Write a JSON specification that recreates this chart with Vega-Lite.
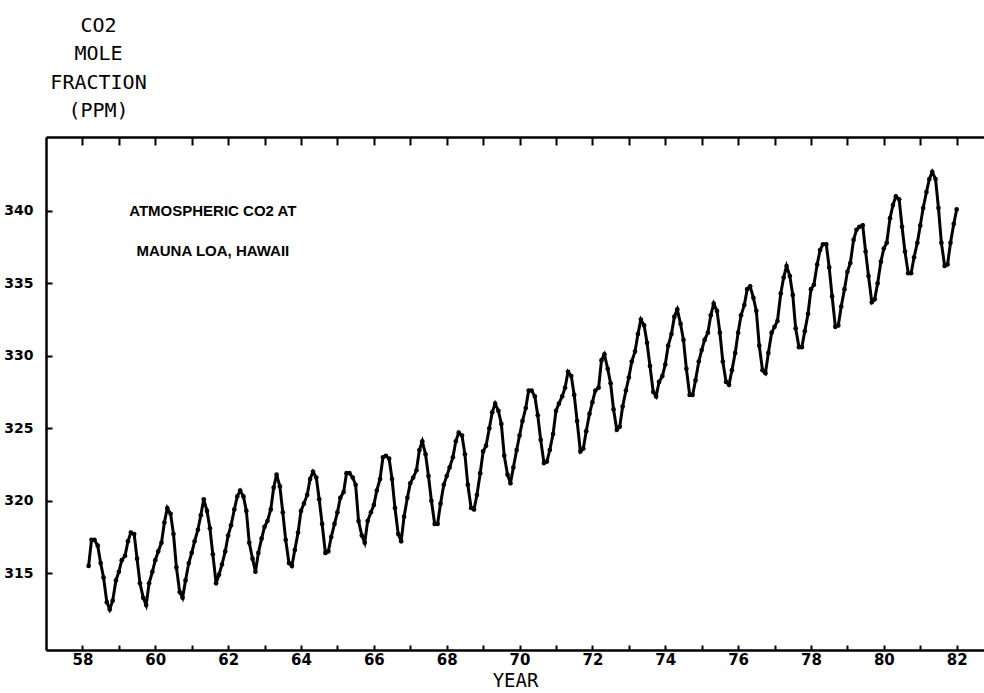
{
  "$schema": "https://vega.github.io/schema/vega-lite/v6.json",
  "autosize": {"type": "none"},
  "width": 938,
  "height": 513,
  "padding": {"left": 46, "top": 137, "right": 0, "bottom": 43},
  "background": "white",
  "config": {
    "view": {"stroke": null},
    "axis": {"grid": false, "domainColor": "black", "tickColor": "black", "labelColor": "black", "titleColor": "black"}
  },
  "datasets": {
    "co2": [
      {"t": 58.17, "co2": 315.5}, {"t": 58.25, "co2": 317.3}, {"t": 58.33, "co2": 317.3}, {"t": 58.42, "co2": 316.9}, {"t": 58.5, "co2": 315.7}, {"t": 58.58, "co2": 314.7}, {"t": 58.67, "co2": 313.0}, {"t": 58.75, "co2": 312.5}, {"t": 58.83, "co2": 313.1}, {"t": 58.92, "co2": 314.5},
      {"t": 59.0, "co2": 315.1}, {"t": 59.08, "co2": 315.9}, {"t": 59.17, "co2": 316.2}, {"t": 59.25, "co2": 317.2}, {"t": 59.33, "co2": 317.8}, {"t": 59.42, "co2": 317.7}, {"t": 59.5, "co2": 316.0}, {"t": 59.58, "co2": 314.3}, {"t": 59.67, "co2": 313.3}, {"t": 59.75, "co2": 312.8}, {"t": 59.83, "co2": 314.3}, {"t": 59.92, "co2": 315.1},
      {"t": 60.0, "co2": 315.9}, {"t": 60.08, "co2": 316.5}, {"t": 60.17, "co2": 317.1}, {"t": 60.25, "co2": 318.5}, {"t": 60.33, "co2": 319.5}, {"t": 60.42, "co2": 319.1}, {"t": 60.5, "co2": 317.7}, {"t": 60.58, "co2": 315.4}, {"t": 60.67, "co2": 313.7}, {"t": 60.75, "co2": 313.3}, {"t": 60.83, "co2": 314.5}, {"t": 60.92, "co2": 315.7},
      {"t": 61.0, "co2": 316.4}, {"t": 61.08, "co2": 317.2}, {"t": 61.17, "co2": 318.0}, {"t": 61.25, "co2": 319.0}, {"t": 61.33, "co2": 320.1}, {"t": 61.42, "co2": 319.3}, {"t": 61.5, "co2": 318.1}, {"t": 61.58, "co2": 316.3}, {"t": 61.67, "co2": 314.3}, {"t": 61.75, "co2": 314.9}, {"t": 61.83, "co2": 315.6}, {"t": 61.92, "co2": 316.5},
      {"t": 62.0, "co2": 317.6}, {"t": 62.08, "co2": 318.3}, {"t": 62.17, "co2": 319.4}, {"t": 62.25, "co2": 320.3}, {"t": 62.33, "co2": 320.7}, {"t": 62.42, "co2": 320.3}, {"t": 62.5, "co2": 319.3}, {"t": 62.58, "co2": 317.1}, {"t": 62.67, "co2": 316.0}, {"t": 62.75, "co2": 315.1}, {"t": 62.83, "co2": 316.4}, {"t": 62.92, "co2": 317.4},
      {"t": 63.0, "co2": 318.2}, {"t": 63.08, "co2": 318.6}, {"t": 63.17, "co2": 319.4}, {"t": 63.25, "co2": 320.9}, {"t": 63.33, "co2": 321.8}, {"t": 63.42, "co2": 321.0}, {"t": 63.5, "co2": 319.2}, {"t": 63.58, "co2": 317.3}, {"t": 63.67, "co2": 315.7}, {"t": 63.75, "co2": 315.5}, {"t": 63.83, "co2": 316.6}, {"t": 63.92, "co2": 317.8},
      {"t": 64.0, "co2": 319.3}, {"t": 64.08, "co2": 319.8}, {"t": 64.17, "co2": 320.4}, {"t": 64.25, "co2": 321.5}, {"t": 64.33, "co2": 322.0}, {"t": 64.42, "co2": 321.6}, {"t": 64.5, "co2": 320.1}, {"t": 64.58, "co2": 318.4}, {"t": 64.67, "co2": 316.4}, {"t": 64.75, "co2": 316.5}, {"t": 64.83, "co2": 317.5}, {"t": 64.92, "co2": 318.4},
      {"t": 65.0, "co2": 319.2}, {"t": 65.08, "co2": 320.2}, {"t": 65.17, "co2": 320.6}, {"t": 65.25, "co2": 321.9}, {"t": 65.33, "co2": 321.9}, {"t": 65.42, "co2": 321.6}, {"t": 65.5, "co2": 321.1}, {"t": 65.58, "co2": 318.6}, {"t": 65.67, "co2": 317.6}, {"t": 65.75, "co2": 317.1}, {"t": 65.83, "co2": 318.6}, {"t": 65.92, "co2": 319.2},
      {"t": 66.0, "co2": 319.7}, {"t": 66.08, "co2": 320.7}, {"t": 66.17, "co2": 321.5}, {"t": 66.25, "co2": 323.0}, {"t": 66.33, "co2": 323.1}, {"t": 66.42, "co2": 322.9}, {"t": 66.5, "co2": 321.5}, {"t": 66.58, "co2": 319.5}, {"t": 66.67, "co2": 317.7}, {"t": 66.75, "co2": 317.2}, {"t": 66.83, "co2": 318.9}, {"t": 66.92, "co2": 320.2},
      {"t": 67.0, "co2": 321.2}, {"t": 67.08, "co2": 321.6}, {"t": 67.17, "co2": 322.1}, {"t": 67.25, "co2": 323.5}, {"t": 67.33, "co2": 324.1}, {"t": 67.42, "co2": 323.2}, {"t": 67.5, "co2": 321.7}, {"t": 67.58, "co2": 320.0}, {"t": 67.67, "co2": 318.4}, {"t": 67.75, "co2": 318.4}, {"t": 67.83, "co2": 319.8}, {"t": 67.92, "co2": 321.1},
      {"t": 68.0, "co2": 321.7}, {"t": 68.08, "co2": 322.3}, {"t": 68.17, "co2": 323.0}, {"t": 68.25, "co2": 324.1}, {"t": 68.33, "co2": 324.7}, {"t": 68.42, "co2": 324.5}, {"t": 68.5, "co2": 323.2}, {"t": 68.58, "co2": 321.1}, {"t": 68.67, "co2": 319.5}, {"t": 68.75, "co2": 319.4}, {"t": 68.83, "co2": 320.4}, {"t": 68.92, "co2": 321.9},
      {"t": 69.0, "co2": 323.4}, {"t": 69.08, "co2": 323.8}, {"t": 69.17, "co2": 325.0}, {"t": 69.25, "co2": 326.1}, {"t": 69.33, "co2": 326.7}, {"t": 69.42, "co2": 326.2}, {"t": 69.5, "co2": 325.3}, {"t": 69.58, "co2": 323.1}, {"t": 69.67, "co2": 321.8}, {"t": 69.75, "co2": 321.2}, {"t": 69.83, "co2": 322.3}, {"t": 69.92, "co2": 323.5},
      {"t": 70.0, "co2": 324.5}, {"t": 70.08, "co2": 325.5}, {"t": 70.17, "co2": 326.4}, {"t": 70.25, "co2": 327.6}, {"t": 70.33, "co2": 327.6}, {"t": 70.42, "co2": 327.2}, {"t": 70.5, "co2": 325.9}, {"t": 70.58, "co2": 324.2}, {"t": 70.67, "co2": 322.6}, {"t": 70.75, "co2": 322.7}, {"t": 70.83, "co2": 323.5}, {"t": 70.92, "co2": 324.6},
      {"t": 71.0, "co2": 326.2}, {"t": 71.08, "co2": 326.7}, {"t": 71.17, "co2": 327.2}, {"t": 71.25, "co2": 327.8}, {"t": 71.33, "co2": 328.9}, {"t": 71.42, "co2": 328.6}, {"t": 71.5, "co2": 327.3}, {"t": 71.58, "co2": 325.5}, {"t": 71.67, "co2": 323.4}, {"t": 71.75, "co2": 323.6}, {"t": 71.83, "co2": 324.8}, {"t": 71.92, "co2": 326.0},
      {"t": 72.0, "co2": 326.8}, {"t": 72.08, "co2": 327.6}, {"t": 72.17, "co2": 327.8}, {"t": 72.25, "co2": 329.7}, {"t": 72.33, "co2": 330.1}, {"t": 72.42, "co2": 329.1}, {"t": 72.5, "co2": 328.1}, {"t": 72.58, "co2": 326.3}, {"t": 72.67, "co2": 324.9}, {"t": 72.75, "co2": 325.1}, {"t": 72.83, "co2": 326.5}, {"t": 72.92, "co2": 327.6},
      {"t": 73.0, "co2": 328.5}, {"t": 73.08, "co2": 329.6}, {"t": 73.17, "co2": 330.3}, {"t": 73.25, "co2": 331.5}, {"t": 73.33, "co2": 332.5}, {"t": 73.42, "co2": 332.1}, {"t": 73.5, "co2": 330.9}, {"t": 73.58, "co2": 329.3}, {"t": 73.67, "co2": 327.5}, {"t": 73.75, "co2": 327.2}, {"t": 73.83, "co2": 328.2}, {"t": 73.92, "co2": 328.6},
      {"t": 74.0, "co2": 329.4}, {"t": 74.08, "co2": 330.7}, {"t": 74.17, "co2": 331.5}, {"t": 74.25, "co2": 332.7}, {"t": 74.33, "co2": 333.2}, {"t": 74.42, "co2": 332.2}, {"t": 74.5, "co2": 331.1}, {"t": 74.58, "co2": 329.1}, {"t": 74.67, "co2": 327.3}, {"t": 74.75, "co2": 327.3}, {"t": 74.83, "co2": 328.3}, {"t": 74.92, "co2": 329.6},
      {"t": 75.0, "co2": 330.4}, {"t": 75.08, "co2": 331.1}, {"t": 75.17, "co2": 331.6}, {"t": 75.25, "co2": 332.8}, {"t": 75.33, "co2": 333.6}, {"t": 75.42, "co2": 333.1}, {"t": 75.5, "co2": 331.6}, {"t": 75.58, "co2": 329.6}, {"t": 75.67, "co2": 328.2}, {"t": 75.75, "co2": 328.0}, {"t": 75.83, "co2": 329.0}, {"t": 75.92, "co2": 330.2},
      {"t": 76.0, "co2": 331.6}, {"t": 76.08, "co2": 332.8}, {"t": 76.17, "co2": 333.5}, {"t": 76.25, "co2": 334.6}, {"t": 76.33, "co2": 334.8}, {"t": 76.42, "co2": 334.0}, {"t": 76.5, "co2": 333.1}, {"t": 76.58, "co2": 330.7}, {"t": 76.67, "co2": 329.0}, {"t": 76.75, "co2": 328.8}, {"t": 76.83, "co2": 330.2}, {"t": 76.92, "co2": 331.6},
      {"t": 77.0, "co2": 332.0}, {"t": 77.08, "co2": 332.4}, {"t": 77.17, "co2": 334.3}, {"t": 77.25, "co2": 335.4}, {"t": 77.33, "co2": 336.2}, {"t": 77.42, "co2": 335.5}, {"t": 77.5, "co2": 334.2}, {"t": 77.58, "co2": 331.9}, {"t": 77.67, "co2": 330.6}, {"t": 77.75, "co2": 330.6}, {"t": 77.83, "co2": 331.7}, {"t": 77.92, "co2": 332.9},
      {"t": 78.0, "co2": 334.6}, {"t": 78.08, "co2": 334.9}, {"t": 78.17, "co2": 336.3}, {"t": 78.25, "co2": 337.3}, {"t": 78.33, "co2": 337.7}, {"t": 78.42, "co2": 337.7}, {"t": 78.5, "co2": 336.1}, {"t": 78.58, "co2": 334.1}, {"t": 78.67, "co2": 332.0}, {"t": 78.75, "co2": 332.1}, {"t": 78.83, "co2": 333.4}, {"t": 78.92, "co2": 334.6},
      {"t": 79.0, "co2": 335.8}, {"t": 79.08, "co2": 336.4}, {"t": 79.17, "co2": 338.0}, {"t": 79.25, "co2": 338.7}, {"t": 79.33, "co2": 338.9}, {"t": 79.42, "co2": 339.0}, {"t": 79.5, "co2": 337.2}, {"t": 79.58, "co2": 335.5}, {"t": 79.67, "co2": 333.7}, {"t": 79.75, "co2": 333.9}, {"t": 79.83, "co2": 335.0}, {"t": 79.92, "co2": 336.5},
      {"t": 80.0, "co2": 337.4}, {"t": 80.08, "co2": 337.8}, {"t": 80.17, "co2": 339.5}, {"t": 80.25, "co2": 340.4}, {"t": 80.33, "co2": 341.0}, {"t": 80.42, "co2": 340.8}, {"t": 80.5, "co2": 338.9}, {"t": 80.58, "co2": 337.2}, {"t": 80.67, "co2": 335.7}, {"t": 80.75, "co2": 335.7}, {"t": 80.83, "co2": 336.8}, {"t": 80.92, "co2": 337.8},
      {"t": 81.0, "co2": 339.0}, {"t": 81.08, "co2": 340.2}, {"t": 81.17, "co2": 341.3}, {"t": 81.25, "co2": 342.2}, {"t": 81.33, "co2": 342.7}, {"t": 81.42, "co2": 342.2}, {"t": 81.5, "co2": 340.2}, {"t": 81.58, "co2": 337.8}, {"t": 81.67, "co2": 336.2}, {"t": 81.75, "co2": 336.3}, {"t": 81.83, "co2": 337.8}, {"t": 81.92, "co2": 339.1},
      {"t": 82.0, "co2": 340.1}
    ]
  },
  "layer": [
    {
      "data": {"name": "co2"},
      "mark": {"type": "line", "color": "black", "strokeWidth": 3, "point": {"filled": true, "size": 22, "color": "black"}},
      "encoding": {
        "x": {
          "field": "t", "type": "quantitative",
          "scale": {"domain": [57, 82.75], "nice": false, "zero": false},
          "axis": {
            "orient": "bottom",
            "values": [58, 59, 60, 61, 62, 63, 64, 65, 66, 67, 68, 69, 70, 71, 72, 73, 74, 75, 76, 77, 78, 79, 80, 81, 82],
            "labelExpr": "datum.value % 2 === 0 ? datum.value : ''",
            "tickSize": -5, "tickWidth": 2, "domainWidth": 2.5,
            "labelFont": "DejaVu Sans", "labelFontWeight": "bold", "labelFontSize": 15, "labelPadding": 7,
            "labelFlush": false, "labelOverlap": false,
            "title": "YEAR", "titleFont": "DejaVu Sans Mono", "titleFontSize": 19, "titleFontWeight": "normal",
            "titleX": 469, "titleY": 36, "titleAlign": "center", "titleBaseline": "alphabetic"
          }
        },
        "y": {
          "field": "co2", "type": "quantitative",
          "scale": {"domain": [309.7, 345.1], "nice": false, "zero": false},
          "axis": {
            "orient": "left",
            "values": [315, 320, 325, 330, 335, 340],
            "tickSize": -6, "tickWidth": 2, "domainWidth": 2.5,
            "labelFont": "DejaVu Sans", "labelFontWeight": "bold", "labelFontSize": 14, "labelPadding": 19,
            "title": ["CO2", "MOLE", "FRACTION", "(PPM)"],
            "titleAngle": 0, "titleAlign": "center", "titleBaseline": "alphabetic",
            "titleX": 52, "titleY": -106,
            "titleFont": "DejaVu Sans Mono", "titleFontSize": 20, "titleFontWeight": "normal", "titleLineHeight": 28.5
          }
        }
      }
    },
    {
      "data": {"values": [{}]},
      "mark": {"type": "text", "font": "Liberation Sans", "fontWeight": "bold", "fontSize": 15, "align": "center", "baseline": "middle", "lineHeight": 40, "color": "black"},
      "encoding": {
        "x": {
          "datum": 61.58, "type": "quantitative",
          "axis": {
            "orient": "top",
            "values": [58, 59, 60, 61, 62, 63, 64, 65, 66, 67, 68, 69, 70, 71, 72, 73, 74, 75, 76, 77, 78, 79, 80, 81, 82],
            "labels": false, "title": null,
            "tickSize": -8, "tickWidth": 2, "domainWidth": 2.5
          }
        },
        "y": {"datum": 340, "type": "quantitative", "axis": null},
        "text": {"value": ["ATMOSPHERIC CO2 AT", "MAUNA LOA, HAWAII"]}
      }
    }
  ],
  "resolve": {"axis": {"x": "independent", "y": "independent"}}
}
